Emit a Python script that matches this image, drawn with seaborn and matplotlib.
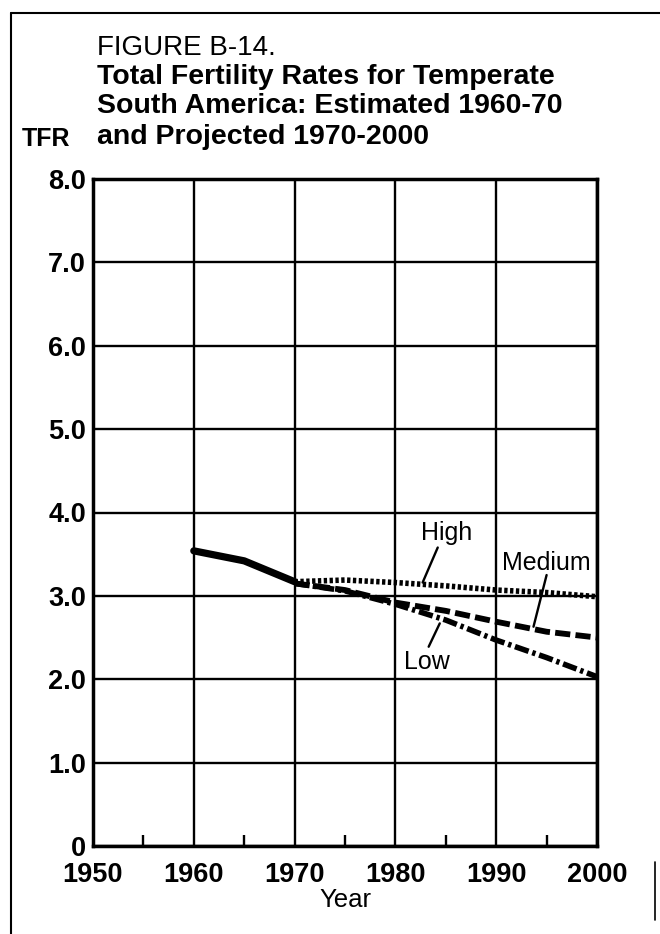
import numpy as np
import pandas as pd
import matplotlib
matplotlib.use("Agg")
import matplotlib.pyplot as plt
from matplotlib.lines import Line2D
from matplotlib.ticker import FixedLocator
import seaborn as sns

# Estimated TFR 1960-70 and projected variants 1970-2000
est_years = [1960, 1965, 1970]
est_tfr = [3.54, 3.42, 3.17]

proj_years = [1970, 1975, 1980, 1985, 1990, 1995, 2000]
high_tfr = [3.17, 3.19, 3.16, 3.12, 3.07, 3.04, 2.99]
medium_tfr = [3.15, 3.07, 2.92, 2.82, 2.69, 2.57, 2.50]
low_tfr = [3.15, 3.06, 2.90, 2.71, 2.47, 2.26, 2.03]

x_ticks = [1950, 1960, 1970, 1980, 1990, 2000]
y_ticks = [0, 1, 2, 3, 4, 5, 6, 7, 8]
y_tick_labels = ["0", "1.0", "2.0", "3.0", "4.0", "5.0", "6.0", "7.0", "8.0"]

if __name__ == '__main__':
    sns.set_style("white")
    plt.rcParams['font.family'] = ['Liberation Sans', 'DejaVu Sans']
    # plain black print look, seaborn's default text is dark grey
    plt.rcParams.update({'text.color': 'black', 'axes.labelcolor': 'black',
                         'xtick.color': 'black', 'ytick.color': 'black'})

    fig = plt.figure(figsize=(6.6, 9.34), dpi=100)
    # axes box: x 93..597 px, y 179..846 px
    ax = fig.add_axes([93 / 660, 1 - 846 / 934, 504 / 660, 667 / 934])

    est = pd.DataFrame({'Year': est_years, 'TFR': est_tfr})
    proj = pd.DataFrame({'Year': proj_years, 'High': high_tfr,
                         'Medium': medium_tfr, 'Low': low_tfr})

    sns.lineplot(x='Year', y='TFR', data=est, ax=ax, color='black',
                 linewidth=5.2, solid_capstyle='round')
    sns.lineplot(x='Year', y='High', data=proj, ax=ax, color='black',
                 linewidth=4.0, linestyle=(0, (0.6, 0.45)), dash_capstyle='butt')
    sns.lineplot(x='Year', y='Medium', data=proj, ax=ax, color='black',
                 linewidth=4.2, linestyle=(0, (2.6, 0.9)), dash_capstyle='butt')
    sns.lineplot(x='Year', y='Low', data=proj, ax=ax, color='black',
                 linewidth=4.0, linestyle=(0, (2.6, 0.7, 0.6, 0.7)), dash_capstyle='butt')
    for ln in ax.lines:
        ln.set_clip_on(False)

    ax.set_xlim(1950, 2000)
    ax.set_ylim(0, 8)
    ax.xaxis.set_major_locator(FixedLocator(x_ticks))
    ax.xaxis.set_minor_locator(FixedLocator([1955, 1965, 1975, 1985, 1995]))
    ax.set_yticks(y_ticks)
    ax.set_yticklabels(y_tick_labels)
    ax.grid(True, which='major', color='black', linewidth=1.7)
    ax.set_axisbelow(True)
    for s in ax.spines.values():
        s.set_color('black')
        s.set_linewidth(2.5)

    ax.tick_params(axis='x', which='major', length=0, pad=11.5, labelsize=19.5,
                   labelcolor='black')
    ax.tick_params(axis='x', which='minor', direction='in', length=8, width=1.7,
                   color='black', bottom=True)
    ax.tick_params(axis='y', which='major', length=0, pad=5, labelsize=19.5,
                   labelcolor='black')
    for lab in ax.get_xticklabels() + ax.get_yticklabels():
        lab.set_fontweight('bold')

    ax.set_xlabel("Year", fontsize=18.5, labelpad=0, color='black')
    ax.set_ylabel("")

    # curve labels with leader lines
    ax.text(1985.1, 3.76, "High", fontsize=18, ha='center', va='center', color='black')
    ax.plot([1984.2, 1982.7], [3.58, 3.16], color='black', lw=1.7)
    ax.text(1995.0, 3.39, "Medium", fontsize=18, ha='center', va='center', color='black')
    ax.plot([1995.0, 1993.7], [3.25, 2.63], color='black', lw=1.7)
    ax.text(1983.1, 2.21, "Low", fontsize=18, ha='center', va='center', color='black')
    ax.plot([1983.3, 1984.4], [2.39, 2.67], color='black', lw=1.7)

    # title block
    tx = 97 / 660
    def fy(py):
        return 1 - py / 934
    fig.text(tx, fy(48), "FIGURE B-14.", fontsize=20, va='center', ha='left', color='black')
    fig.text(tx, fy(77), "Total Fertility Rates for Temperate", fontsize=20.5,
             fontweight='bold', va='center', ha='left', color='black')
    fig.text(tx, fy(106), "South America: Estimated 1960-70", fontsize=20.5,
             fontweight='bold', va='center', ha='left', color='black')
    fig.text(tx, fy(137), "and Projected 1970-2000", fontsize=20.5,
             fontweight='bold', va='center', ha='left', color='black')
    fig.text(22 / 660, fy(139), "TFR", fontsize=18, fontweight='bold',
             va='center', ha='left', color='black')

    # page frame
    fig.add_artist(Line2D([11 / 660, 11 / 660], [0, fy(13)], color='black', lw=1.5))
    fig.add_artist(Line2D([11 / 660, 1], [fy(13), fy(13)], color='black', lw=1.5))
    fig.add_artist(Line2D([655 / 660, 655 / 660], [fy(920), fy(862)], color='black', lw=1.2))

    fig.savefig('out.png', dpi=100)
